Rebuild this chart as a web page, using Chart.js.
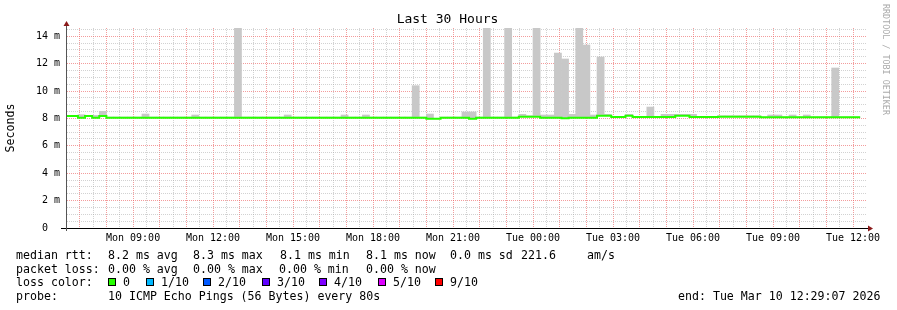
<!DOCTYPE html>
<html>
<head>
<meta charset="utf-8">
<script src="https://cdn.jsdelivr.net/npm/chart.js@4/dist/chart.umd.min.js"></script>
<style>
  body { margin: 0; background: #fff; }
  #wrap { position: relative; width: 897px; height: 310px; font-family: "DejaVu Sans Mono", monospace; color: #000; }
  canvas { position: absolute; left: 0; top: 0; }
  .t { position: absolute; font-size: 11.6px; line-height: 14px; white-space: pre; }
  .box { position: absolute; width: 6px; height: 6px; border: 1px solid #000; }
  #title { position: absolute; left: 0; width: 895px; top: 11px; text-align: center; font-size: 13px; line-height: 16px; }
  #mark { position: absolute; left: 881px; top: 4px; writing-mode: vertical-rl; font-size: 8.4px; line-height: 10px; color: #aaa; white-space: pre; }
</style>
</head>
<body>
<div id="wrap">
  <canvas id="chart" width="897" height="310"></canvas>
  <div id="title">Last 30 Hours</div>
  <div id="mark">RRDTOOL / TOBI OETIKER</div>
  <div id="legend"></div>
</div>
<script>
// 16 minute consolidated bins, counted from Mon 00:00
const binMinutes = 16;
const firstBin = 24;

// median rtt per bin (ms)
const median = [
  8.18, 8.18, 8.05, 8.18, 8.05, 8.18, 8.05, 8.05,
  8.05, 8.05, 8.05, 8.05, 8.05, 8.05, 8.05, 8.05,
  8.05, 8.05, 8.05, 8.05, 8.05, 8.05, 8.05, 8.05,
  8.05, 8.05, 8.05, 8.05, 8.05, 8.05, 8.05, 8.05,
  8.05, 8.05, 8.05, 8.05, 8.05, 8.05, 8.05, 8.05,
  8.05, 8.05, 8.05, 8.05, 8.05, 8.05, 8.05, 8.05,
  8.05, 8.05, 8.05, 7.97, 7.97, 8.05, 8.05, 8.05,
  8.05, 7.97, 8.05, 8.05, 8.05, 8.05, 8.05, 8.05,
  8.12, 8.12, 8.12, 8.05, 8.05, 8.05, 8.02, 8.05,
  8.05, 8.05, 8.05, 8.2, 8.2, 8.1, 8.1, 8.2,
  8.1, 8.1, 8.1, 8.1, 8.1, 8.1, 8.2, 8.2,
  8.1, 8.1, 8.1, 8.1, 8.12, 8.12, 8.12, 8.12,
  8.12, 8.12, 8.08, 8.08, 8.08, 8.08, 8.08, 8.08,
  8.08, 8.08, 8.08, 8.08, 8.08, 8.08, 8.08, 8.08
];

// slowest ping per bin (top of the smoke, ms)
const smokeTop = [
  8.2, 8.2, 8.27, 8.2, 8.22, 8.52, 8.1, 8.1,
  8.1, 8.1, 8.1, 8.32, 8.1, 8.1, 8.1, 8.1,
  8.1, 8.1, 8.25, 8.1, 8.1, 8.1, 8.1, 8.1,
  15, 8.1, 8.1, 8.1, 8.1, 8.1, 8.1, 8.25,
  8.1, 8.1, 8.1, 8.1, 8.1, 8.1, 8.1, 8.25,
  8.1, 8.1, 8.25, 8.1, 8.1, 8.1, 8.1, 8.1,
  8.1, 10.39, 8.1, 8.32, 8.0, 8.1, 8.1, 8.1,
  8.47, 8.47, 8.1, 15, 8.1, 8.1, 15, 8.1,
  8.3, 8.2, 15, 8.25, 8.25, 12.77, 12.34, 8.3,
  15, 13.36, 8.25, 12.48, 8.3, 8.15, 8.15, 8.3,
  8.15, 8.15, 8.83, 8.15, 8.3, 8.3, 8.3, 8.3,
  8.3, 8.15, 8.15, 8.15, 8.2, 8.2, 8.2, 8.2,
  8.2, 8.2, 8.1, 8.25, 8.25, 8.1, 8.25, 8.1,
  8.25, 8.1, 8.1, 8.1, 11.68, 8.1, 8.1, 8.1
];

const startHour = 6 + 29 / 60 + 7 / 3600;   // Mon 06:29:07
const endHour = startHour + 30.002;           // Tue 12:29:07
const labelHours = [9, 12, 15, 18, 21, 24, 27, 30, 33, 36];
const timeLabels = ["Mon 09:00", "Mon 12:00", "Mon 15:00", "Mon 18:00", "Mon 21:00",
                    "Tue 00:00", "Tue 03:00", "Tue 06:00", "Tue 09:00", "Tue 12:00"];
const yTickValues = [0, 2, 4, 6, 8, 10, 12, 14];
const yLabels = ["0  ", "2 m", "4 m", "6 m", "8 m", "10 m", "12 m", "14 m"];

const lossLabels = ["0", "1/10", "2/10", "3/10", "4/10", "5/10", "9/10"];
const lossColors = ["#26ff00", "#00b8ff", "#0059ff", "#5e00ff", "#7e00ff", "#dd00ff", "#ff0000"];

/* ===== legend text under the graph ===== */
function txt(x, y, s) {
    return `<span class="t" style="left:${x}px;top:${y}px">${s}</span>`;
}
const boxX = [108, 146, 203, 262, 319, 378, 435];
let html = "";
html += txt(16, 248, "median rtt:");
html += txt(108, 248, "8.2 ms avg") + txt(193, 248, "8.3 ms max") + txt(280, 248, "8.1 ms min");
html += txt(366, 248, "8.1 ms now") + txt(450, 248, "0.0 ms sd") + txt(521, 248, "221.6") + txt(587, 248, "am/s");
html += txt(16, 261.5, "packet loss:");
html += txt(108, 261.5, "0.00 % avg") + txt(193, 261.5, "0.00 % max") + txt(279, 261.5, "0.00 % min") + txt(366, 261.5, "0.00 % now");
html += txt(16, 275, "loss color:");
lossLabels.forEach((l, i) => {
    html += `<span class="box" style="left:${boxX[i]}px;top:278px;background:${lossColors[i]}"></span>`;
    html += txt(boxX[i] + 15, 275, l);
});
html += txt(16, 288.5, "probe:");
html += txt(108, 288.5, "10 ICMP Echo Pings (56 Bytes) every 80s");
html += txt(678, 288.5, "end: Tue Mar 10 12:29:07 2026");
document.getElementById("legend").innerHTML = html;

/* ===== datasets ===== */
const binHour = i => (firstBin + i) * binMinutes / 60;
const smokeData = median.map((m, i) => ({ x: binHour(i) + binMinutes / 120, y: [m, smokeTop[i]] }));
const medianData = median.map((m, i) => ({ x: binHour(i), y: m }));
medianData.push({ x: binHour(median.length), y: median[median.length - 1] });

/* ===== arrows + axis stubs like rrdtool ===== */
const axisArrows = {
    id: "axisArrows",
    afterDraw(chart) {
        const { ctx, chartArea: a } = chart;
        ctx.save();
        ctx.lineWidth = 1;
        ctx.strokeStyle = "#000";
        ctx.beginPath();
        ctx.moveTo(a.left - 5, a.bottom + 0.5);
        ctx.lineTo(a.right + 3, a.bottom + 0.5);
        ctx.stroke();
        ctx.strokeStyle = "#555";
        ctx.beginPath();
        ctx.moveTo(a.left + 0.5, a.bottom + 3);
        ctx.lineTo(a.left + 0.5, a.top - 3);
        ctx.stroke();
        ctx.fillStyle = "#8b1a1a";
        ctx.beginPath();
        ctx.moveTo(a.right + 2, a.bottom - 2.5);
        ctx.lineTo(a.right + 7, a.bottom + 0.5);
        ctx.lineTo(a.right + 2, a.bottom + 3.5);
        ctx.fill();
        ctx.beginPath();
        ctx.moveTo(a.left - 2.5, a.top - 2);
        ctx.lineTo(a.left + 0.5, a.top - 7);
        ctx.lineTo(a.left + 3.5, a.top - 2);
        ctx.fill();
        ctx.restore();
    }
};

const majorGrid = "rgba(235,90,90,0.6)";
const minorGrid = "rgba(165,165,165,0.5)";

Chart.defaults.font.family = "DejaVu Sans Mono";
Chart.defaults.color = "#000";

new Chart(document.getElementById("chart"), {
    type: "bar",
    data: {
        datasets: [
            {
                type: "line",
                data: medianData,
                borderColor: "#26ff00",
                borderWidth: 2,
                stepped: true,
                pointRadius: 0,
                clip: 0,
                order: 0
            },
            {
                data: smokeData,
                backgroundColor: "#c8c8c8",
                borderWidth: 0,
                barPercentage: 1,
                categoryPercentage: 1,
                grouped: false,
                clip: 0,
                order: 1
            }
        ]
    },
    options: {
        responsive: false,
        animation: false,
        events: [],
        layout: { padding: { left: 0, top: 28, right: 31, bottom: 62 } },
        plugins: { legend: { display: false }, tooltip: { enabled: false }, title: { display: false } },
        scales: {
            x: {
                type: "linear",
                offset: false,
                min: startHour,
                max: endHour,
                afterFit: s => { s.height = 20; s.paddingLeft = 0; s.paddingRight = 0; },
                ticks: {
                    stepSize: 0.5,
                    autoSkip: false,
                    maxRotation: 0,
                    minRotation: 0,
                    includeBounds: false,
                    padding: 4,
                    font: { size: 10 },
                    callback: v => {
                        const j = labelHours.indexOf(v);
                        return j >= 0 ? timeLabels[j] : "";
                    }
                },
                grid: {
                    offset: false,
                    drawTicks: false,
                    color: c => (c.tick && Math.abs(c.tick.value - Math.round(c.tick.value)) < 1e-6) ? majorGrid : minorGrid
                },
                border: { color: "#000", width: 1, dash: [1, 1] }
            },
            y: {
                min: 0,
                max: 14.6,
                afterFit: s => { s.width = 66; s.paddingTop = 0; s.paddingBottom = 0; },
                ticks: {
                    stepSize: 0.5,
                    autoSkip: false,
                    includeBounds: false,
                    padding: 6,
                    font: { size: 10 },
                    callback: v => {
                        const j = yTickValues.indexOf(v);
                        return j >= 0 ? yLabels[j] : "";
                    }
                },
                grid: {
                    drawTicks: false,
                    color: c => (c.tick && c.tick.value % 2 === 0) ? majorGrid : minorGrid
                },
                border: { color: "#555", width: 1, dash: [1, 1] },
                title: {
                    display: true,
                    text: "Seconds",
                    font: { size: 11.6 },
                    padding: { top: 4, bottom: 0 }
                }
            }
        }
    },
    plugins: [axisArrows]
});
</script>
</body>
</html>
